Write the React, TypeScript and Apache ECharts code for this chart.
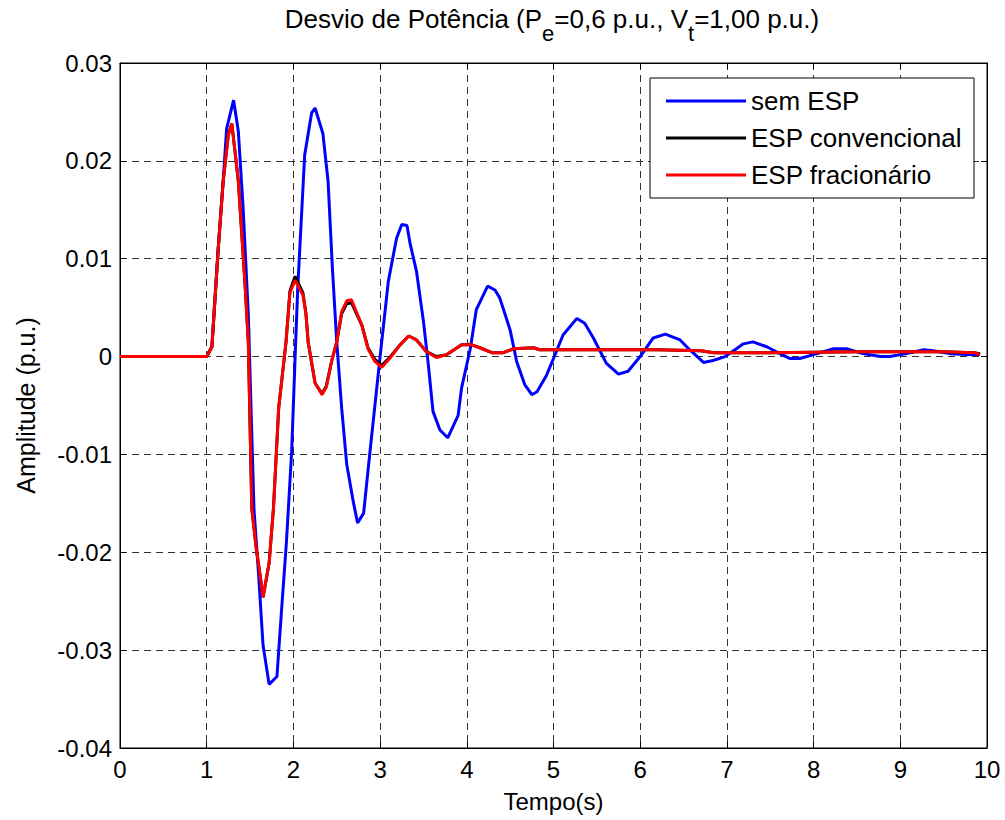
import React, { useEffect, useRef } from 'react';
import * as echarts from 'echarts';

const FONT = '"Liberation Sans", Arial, Helvetica, sans-serif';

const xTickValues = [0, 1, 2, 3, 4, 5, 6, 7, 8, 9, 10];
const yTickValues = [-0.04, -0.03, -0.02, -0.01, 0, 0.01, 0.02, 0.03];

const seriesNames = ['sem ESP', 'ESP convencional', 'ESP fracionário'];

const semEspT = [0, 1.0, 1.06, 1.13, 1.19, 1.23, 1.31, 1.365, 1.42, 1.48, 1.545, 1.6, 1.65, 1.72, 1.81, 1.865, 1.92, 1.98, 2.02, 2.05, 2.13, 2.21, 2.25, 2.34, 2.4, 2.45, 2.5, 2.557, 2.615, 2.69, 2.74, 2.81, 2.88, 3.0, 3.095, 3.19, 3.25, 3.31, 3.345, 3.42, 3.5, 3.556, 3.61, 3.69, 3.78, 3.9, 3.94, 4.04, 4.11, 4.24, 4.325, 4.38, 4.5, 4.575, 4.67, 4.75, 4.81, 4.92, 5.0, 5.11, 5.27, 5.36, 5.46, 5.61, 5.75, 5.86, 6.0, 6.15, 6.29, 6.46, 6.57, 6.73, 6.84, 6.98, 7.11, 7.19, 7.3, 7.46, 7.61, 7.73, 7.84, 8.0, 8.23, 8.38, 8.57, 8.77, 8.88, 9.07, 9.27, 9.38, 9.57, 9.77, 9.92];
const semEspV = [0, 0, 0.001, 0.0108, 0.018, 0.0233, 0.0262, 0.023, 0.0152, 0.0043, -0.0155, -0.0225, -0.0295, -0.0335, -0.0327, -0.0257, -0.0189, -0.0097, 0, 0.007, 0.0206, 0.0249, 0.0254, 0.0228, 0.0179, 0.009, 0.0015, -0.0053, -0.011, -0.0148, -0.017, -0.016, -0.01, 0, 0.0077, 0.0121, 0.0135, 0.0134, 0.0116, 0.0087, 0.0036, -0.0008, -0.0056, -0.0075, -0.0083, -0.006, -0.0032, 0.0008, 0.0048, 0.0072, 0.0068, 0.006, 0.0027, -0.0005, -0.0029, -0.0039, -0.0036, -0.0019, -0.0002, 0.0022, 0.0039, 0.0034, 0.0019, -0.0007, -0.0018, -0.0015, 0, 0.0019, 0.0023, 0.0017, 0.0007, -0.0006, -0.0004, 0, 0.0008, 0.0013, 0.0015, 0.001, 0.0003, -0.0002, -0.0002, 0.0002, 0.0008, 0.0008, 0.0003, 0, 0, 0.0003, 0.0007, 0.0006, 0.0003, 0.0002, 0.0002];

const convT = [0, 1.0, 1.06, 1.134, 1.19, 1.25, 1.29, 1.365, 1.44, 1.48, 1.52, 1.57, 1.615, 1.65, 1.72, 1.77, 1.83, 1.915, 1.96, 2.02, 2.11, 2.145, 2.17, 2.25, 2.33, 2.38, 2.44, 2.5, 2.557, 2.615, 2.67, 2.79, 2.86, 2.94, 3.02, 3.11, 3.23, 3.33, 3.42, 3.535, 3.65, 3.77, 3.94, 4.06, 4.15, 4.29, 4.42, 4.54, 4.77, 4.84, 5.5, 6.2, 6.7, 6.85, 7.5, 8.5, 9.5, 9.85, 9.92];
const convV = [0, 0, 0.001, 0.0111, 0.0179, 0.0227, 0.0238, 0.0179, 0.0077, 0.0015, -0.0155, -0.0195, -0.0223, -0.0246, -0.0211, -0.0155, -0.0053, 0.0015, 0.0067, 0.0082, 0.0065, 0.0044, 0.0015, -0.0027, -0.0038, -0.003, -0.0005, 0.0015, 0.0044, 0.0054, 0.0055, 0.0032, 0.0009, -0.0003, -0.0009, -0.0001, 0.0012, 0.0021, 0.0017, 0.0005, 0, 0.0002, 0.0012, 0.0012, 0.0009, 0.0004, 0.0004, 0.0008, 0.0009, 0.0007, 0.0007, 0.0007, 0.0006, 0.0004, 0.0004, 0.0005, 0.0005, 0.0004, 0.0003];

const fracT = [0, 1.0, 1.06, 1.134, 1.19, 1.25, 1.29, 1.365, 1.44, 1.48, 1.52, 1.57, 1.615, 1.65, 1.72, 1.77, 1.83, 1.915, 1.96, 2.02, 2.11, 2.145, 2.17, 2.25, 2.33, 2.38, 2.44, 2.5, 2.557, 2.615, 2.67, 2.79, 2.86, 2.94, 3.02, 3.11, 3.23, 3.33, 3.42, 3.535, 3.65, 3.77, 3.94, 4.06, 4.15, 4.29, 4.42, 4.54, 4.77, 4.84, 5.5, 6.2, 6.7, 6.85, 7.5, 8.5, 9.5, 9.85, 9.92];
const fracV = [0, 0, 0.001, 0.0111, 0.0179, 0.0227, 0.0238, 0.0179, 0.0077, 0.0015, -0.0155, -0.0195, -0.0223, -0.0246, -0.0211, -0.0155, -0.0053, 0.0015, 0.0065, 0.0078, 0.0063, 0.0043, 0.0015, -0.0027, -0.0039, -0.0031, -0.0005, 0.0015, 0.0046, 0.0057, 0.0058, 0.0032, 0.0008, -0.0005, -0.0011, -0.0002, 0.0012, 0.0021, 0.0017, 0.0005, -0.0001, 0.0002, 0.0012, 0.0012, 0.0009, 0.0004, 0.0004, 0.0008, 0.0009, 0.0007, 0.0007, 0.0007, 0.0006, 0.0004, 0.0004, 0.0005, 0.0005, 0.0004, 0.0002];

const colors = ['#0000ff', '#000000', '#ff0000'];

function pairs(t: number[], v: number[]) {
  return t.map((x, i) => [x, v[i]]);
}

const dashed = { show: true, lineStyle: { color: '#333', type: [7, 5] as any, width: 1 } };

export default function App() {
  const ref = useRef<HTMLDivElement>(null);
  useEffect(() => {
    document.body.style.margin = '0';
    const chart = echarts.init(ref.current!, null, { renderer: 'svg' });
    const yMin = yTickValues[0];
    const yMax = yTickValues[yTickValues.length - 1];
    const option: any = {
      animation: false,
      backgroundColor: '#fff',
      textStyle: { fontFamily: FONT, color: '#000' },
      title: {
        text: '{n|Desvio de Potência (P}{s|e}{n|=0,6 p.u., V}{s|t}{n|=1,00 p.u.)}',
        left: 552,
        top: 6,
        padding: 0,
        textAlign: 'center',
        textStyle: {
          fontFamily: FONT,
          fontWeight: 'normal',
          color: '#000',
          fontSize: 26,
          rich: {
            n: { fontFamily: FONT, fontSize: 26, lineHeight: 30, color: '#000', verticalAlign: 'top' },
            s: { fontFamily: FONT, fontSize: 22, lineHeight: 22, color: '#000', padding: [16, 0, 0, 0], verticalAlign: 'top' },
          },
        },
      },
      legend: {
        data: seriesNames,
        orient: 'vertical',
        left: 650,
        top: 78,
        padding: [10, 12, 10, 16],
        itemGap: 11,
        itemWidth: 80,
        itemHeight: 3,
        itemTextGap: 9,
        icon: 'rect',
        selectedMode: false,
        borderColor: '#000',
        borderWidth: 1,
        backgroundColor: '#fff',
        textStyle: { fontFamily: FONT, fontSize: 26, lineHeight: 26, color: '#000' },
      },
      grid: {
        left: 120,
        right: 18,
        top: 63,
        bottom: 72,
        show: true,
        borderColor: '#000',
        borderWidth: 1,
        containLabel: false,
        outerBoundsMode: 'none',
      },
      xAxis: [
        {
          type: 'value',
          min: xTickValues[0],
          max: xTickValues[xTickValues.length - 1],
          interval: 1,
          position: 'bottom',
          name: 'Tempo(s)',
          nameLocation: 'middle',
          nameGap: 41,
          nameTextStyle: { fontFamily: FONT, fontSize: 24, color: '#000' },
          axisLine: { show: true, onZero: false, lineStyle: { color: '#000', width: 1 } },
          axisTick: { show: true, inside: true, length: 6, lineStyle: { color: '#000' } },
          axisLabel: { fontFamily: FONT, fontSize: 24, color: '#000', margin: 9 },
          splitLine: dashed,
        },
        {
          type: 'value',
          min: xTickValues[0],
          max: xTickValues[xTickValues.length - 1],
          interval: 1,
          position: 'top',
          axisLine: { show: true, onZero: false, lineStyle: { color: '#000', width: 1 } },
          axisTick: { show: true, inside: true, length: 6, lineStyle: { color: '#000' } },
          axisLabel: { show: false },
          splitLine: { show: false },
        },
      ],
      yAxis: [
        {
          type: 'value',
          min: yMin,
          max: yMax,
          interval: 0.01,
          position: 'left',
          name: 'Amplitude (p.u.)',
          nameLocation: 'middle',
          nameGap: 82,
          nameTextStyle: { fontFamily: FONT, fontSize: 25, color: '#000' },
          axisLine: { show: true, onZero: false, lineStyle: { color: '#000', width: 1 } },
          axisTick: { show: true, inside: true, length: 6, lineStyle: { color: '#000' } },
          axisLabel: {
            fontFamily: FONT,
            fontSize: 24,
            color: '#000',
            margin: 8,
            formatter: (v: number) => (Math.abs(v) < 1e-9 ? '0' : v.toFixed(2)),
          },
          splitLine: dashed,
        },
        {
          type: 'value',
          min: yMin,
          max: yMax,
          interval: 0.01,
          position: 'right',
          axisLine: { show: true, onZero: false, lineStyle: { color: '#000', width: 1 } },
          axisTick: { show: true, inside: true, length: 6, lineStyle: { color: '#000' } },
          axisLabel: { show: false },
          splitLine: { show: false },
        },
      ],
      series: [
        { name: seriesNames[0], data: pairs(semEspT, semEspV), color: colors[0] },
        { name: seriesNames[1], data: pairs(convT, convV), color: colors[1] },
        { name: seriesNames[2], data: pairs(fracT, fracV), color: colors[2] },
      ].map((s, i) => ({
        ...s,
        type: 'line',
        xAxisIndex: 0,
        yAxisIndex: 0,
        showSymbol: false,
        symbol: 'none',
        z: 3 + i,
        lineStyle: { width: 3, color: s.color },
        itemStyle: { color: s.color },
      })),
    };
    chart.setOption(option);
    return () => chart.dispose();
  }, []);
  return <div ref={ref} style={{ width: 1005, height: 820, background: '#fff' }} />;
}
